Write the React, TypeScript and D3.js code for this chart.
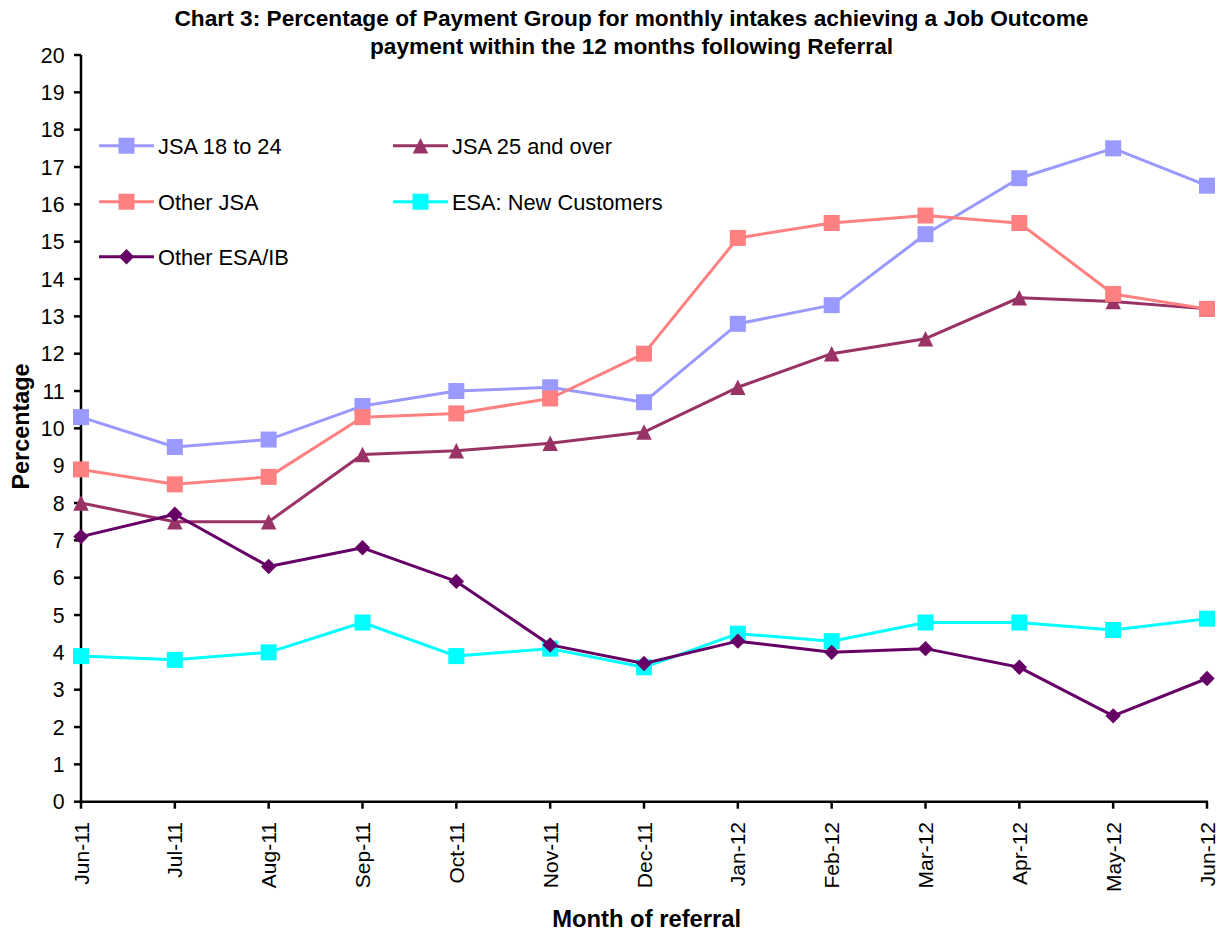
import React from 'react';
import * as d3 from 'd3';

const months = ['Jun-11', 'Jul-11', 'Aug-11', 'Sep-11', 'Oct-11', 'Nov-11', 'Dec-11', 'Jan-12', 'Feb-12', 'Mar-12', 'Apr-12', 'May-12', 'Jun-12'];
const jsa1824 = [10.3, 9.5, 9.7, 10.6, 11.0, 11.1, 10.7, 12.8, 13.3, 15.2, 16.7, 17.5, 16.5];
const jsa25Over = [8.0, 7.5, 7.5, 9.3, 9.4, 9.6, 9.9, 11.1, 12.0, 12.4, 13.5, 13.4, 13.2];
const otherJsa = [8.9, 8.5, 8.7, 10.3, 10.4, 10.8, 12.0, 15.1, 15.5, 15.7, 15.5, 13.6, 13.2];
const esaNew = [3.9, 3.8, 4.0, 4.8, 3.9, 4.1, 3.6, 4.5, 4.3, 4.8, 4.8, 4.6, 4.9];
const otherEsaIb = [7.1, 7.7, 6.3, 6.8, 5.9, 4.2, 3.7, 4.3, 4.0, 4.1, 3.6, 2.3, 3.3];
const yTicks = d3.range(0, 21, 1);

const titleLines = [
  'Chart 3: Percentage of Payment Group for monthly intakes achieving a Job Outcome',
  'payment within the 12 months following Referral',
];

type Marker = 'square' | 'triangle' | 'diamond';
const series: { name: string; values: number[]; color: string; marker: Marker }[] = [
  { name: 'JSA 18 to 24', values: jsa1824, color: '#9999FF', marker: 'square' },
  { name: 'JSA 25 and over', values: jsa25Over, color: '#993366', marker: 'triangle' },
  { name: 'Other JSA', values: otherJsa, color: '#FF8080', marker: 'square' },
  { name: 'ESA: New Customers', values: esaNew, color: '#00FFFF', marker: 'square' },
  { name: 'Other ESA/IB', values: otherEsaIb, color: '#660066', marker: 'diamond' },
];

const FONT = '"Liberation Sans", Arial, sans-serif';

function MarkerShape({ type, x, y, color }: { type: Marker; x: number; y: number; color: string }) {
  if (type === 'square') {
    const s = 16;
    return <rect x={x - s / 2} y={y - s / 2} width={s} height={s} fill={color} />;
  }
  if (type === 'triangle') {
    const w = 15.5, h = 15.5;
    return <path d={`M${x},${y - h / 2}L${x + w / 2},${y + h / 2}L${x - w / 2},${y + h / 2}Z`} fill={color} />;
  }
  const r = 7.7;
  return <path d={`M${x},${y - r}L${x + r},${y}L${x},${y + r}L${x - r},${y}Z`} fill={color} />;
}

export default function App() {
  const W = 1218, H = 933;
  const x = d3.scalePoint<string>().domain(months).range([81, 1207]);
  const y = d3.scaleLinear().domain([0, 20]).range([801.7, 55]);
  const line = d3.line<number>().x((_, i) => x(months[i]) as number).y((d) => y(d));

  const legendPos = [
    { lx: 99, ly: 145.7 },
    { lx: 393, ly: 145.7 },
    { lx: 99, ly: 201.7 },
    { lx: 393, ly: 201.7 },
    { lx: 99, ly: 256.7 },
  ];

  return (
    <svg width={W} height={H} style={{ position: 'absolute', left: 0, top: 0, background: '#fff' }} fontFamily={FONT}>
      <rect width={W} height={H} fill="#fff" />
      {titleLines.map((t, i) => (
        <text key={i} x={631.5} y={25.8 + i * 27.7} textAnchor="middle" fontSize={22.7} fontWeight="bold" fill="#000">
          {t}
        </text>
      ))}

      {/* y axis */}
      <line x1={81} x2={81} y1={y(20)} y2={y(0)} stroke="#000" strokeWidth={2.5} />
      {yTicks.map((t) => (
        <g key={t}>
          <line x1={74} x2={81} y1={y(t)} y2={y(t)} stroke="#000" strokeWidth={2.5} />
          <text x={64.5} y={y(t)} dy="0.36em" textAnchor="end" fontSize={21.3} fill="#000">
            {t}
          </text>
        </g>
      ))}
      <text transform={`translate(28.5,426.5) rotate(-90)`} textAnchor="middle" fontSize={23.4} fontWeight="bold" fill="#000">
        Percentage
      </text>

      {/* x axis */}
      <line x1={81} x2={1208} y1={y(0)} y2={y(0)} stroke="#000" strokeWidth={2.5} />
      {months.map((m) => {
        const px = x(m) as number;
        return (
          <g key={m}>
            <line x1={px} x2={px} y1={y(0)} y2={y(0) + 7} stroke="#000" strokeWidth={2.5} />
            <text transform={`translate(${px},822) rotate(-90)`} dy="0.36em" textAnchor="end" fontSize={21} fill="#000">
              {m}
            </text>
          </g>
        );
      })}
      <text x={646.7} y={927.3} textAnchor="middle" fontSize={23.8} fontWeight="bold" fill="#000">
        Month of referral
      </text>

      {/* series */}
      {series.map((s) => (
        <g key={s.name}>
          <path d={line(s.values) || ''} fill="none" stroke={s.color} strokeWidth={3} strokeLinejoin="round" />
          {s.values.map((v, i) => (
            <MarkerShape key={i} type={s.marker} x={x(months[i]) as number} y={y(v)} color={s.color} />
          ))}
        </g>
      ))}

      {/* legend */}
      {series.map((s, i) => {
        const { lx, ly } = legendPos[i];
        return (
          <g key={s.name}>
            <line x1={lx} x2={lx + 55} y1={ly} y2={ly} stroke={s.color} strokeWidth={3} />
            <MarkerShape type={s.marker} x={lx + 27.5} y={ly} color={s.color} />
            <text x={lx + 59} y={ly} dy="0.36em" fontSize={21.8} fill="#000">
              {s.name}
            </text>
          </g>
        );
      })}
    </svg>
  );
}
